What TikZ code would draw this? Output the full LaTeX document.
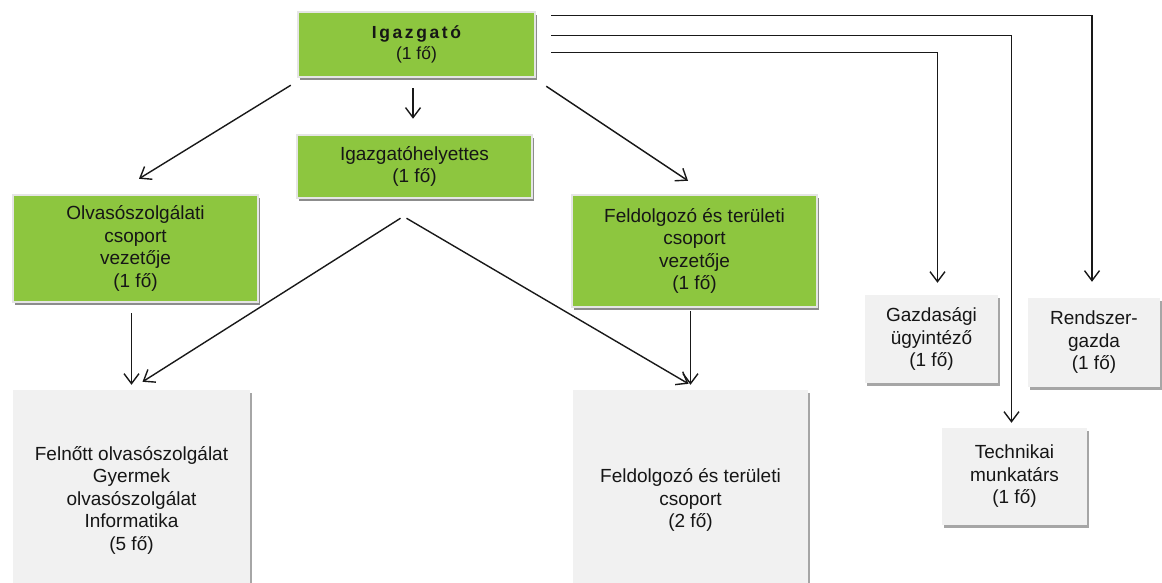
\documentclass[tikz,border=0pt]{standalone}
\usepackage{fontspec}
\setmainfont{Liberation Sans}
\usetikzlibrary{arrows.meta,shadows,calc}
\definecolor{boxgreen}{RGB}{141,198,63}
\definecolor{boxgray}{RGB}{241,241,241}
\definecolor{inkc}{RGB}{22,22,22}
\tikzset{
 base/.style={inner sep=0pt, align=center, font=\fontsize{19}{22.5}\selectfont, text=inkc},
 greenbox/.style={base, fill=boxgreen, draw=black!10, line width=2.5pt,
   drop shadow={shadow xshift=1.5pt, shadow yshift=-3pt, fill=black!45, opacity=1}},
 graybox/.style={base, fill=boxgray,
   drop shadow={shadow xshift=2pt, shadow yshift=-3pt, fill=black!35, opacity=1}},
 arr/.style={draw=black!90, line width=1.4pt, -{Straight Barb[length=10pt,width=15pt]}},
}
\begin{document}
\begin{tikzpicture}[x=1pt,y=-1pt]
\useasboundingbox (0,0) rectangle (1162,583);

% nodes
\node[greenbox, minimum width=237pt, minimum height=65pt,
      font=\fontsize{17.5}{21}\selectfont] (dir) at (416.5,44.5)
  {\textbf{I\kern2.6pt g\kern2.6pt a\kern2.6pt z\kern2.6pt g\kern2.6pt a\kern2.6pt t\kern2.6pt ó}\\(1 fő)};
\node[greenbox, minimum width=235pt, minimum height=63pt] (dep) at (414.5,166.5)
  {Igazgatóhelyettes\\(1 fő)};
\node[greenbox, minimum width=245pt, minimum height=107pt] (olv) at (135.5,248.5)
  {Olvasószolgálati\\csoport\\vezetője\\(1 fő)};
\node[greenbox, minimum width=245pt, minimum height=112pt] (fel) at (694.5,251)
  {Feldolgozó és területi\\csoport\\vezetője\\(1 fő)};
\node[graybox, minimum width=237pt, minimum height=220pt] (bl) at (131.5,500)
  {Felnőtt olvasószolgálat\\Gyermek\\olvasószolgálat\\Informatika\\(5 fő)};
\node[graybox, minimum width=235pt, minimum height=220pt] (br) at (690.5,500)
  {Feldolgozó és területi\\csoport\\(2 fő)};
\node[graybox, minimum width=133pt, minimum height=88pt] (gaz) at (931.5,339)
  {Gazdasági\\ügyintéző\\(1 fő)};
\node[graybox, minimum width=132pt, minimum height=89pt] (ren) at (1094,342.5)
  {Rendszer-\\gazda\\(1 fő)};
\node[graybox, minimum width=145pt, minimum height=97pt] (tec) at (1014.5,476.5)
  {Technikai\\munkatárs\\(1 fő)};

% connectors
\draw[arr] ($(dir.south west)+(-6,7)$) -- ($(olv.north)+(3.5,-15)$);
\draw[arr] ($(dir.south)+(-3.5,10)$) -- ($(dep.north)+(-1.5,-15)$);
\draw[arr] ($(dir.south east)+(10,8)$) -- ($(fel.north)+(-6.5,-13)$);
\draw[arr] ($(dep.south)+(-14,19)$) -- ($(bl.north)+(11,-8)$);
\draw[arr] ($(dep.south)+(-8,19)$) -- ($(br.north)+(-2,-6)$);
\draw[arr, shorten <=10pt, shorten >=5pt] (olv.south -| bl.north) -- (bl.north);
\draw[arr, shorten <=3pt, shorten >=5pt] (fel.south -| br.north) -- (br.north);
\draw[arr] ($(dir.north east)+(15,5)$) -| ($(ren.north)+(-2,-16)$);
\draw[arr] ($(dir.north east)+(15,25)$) -| ($(tec.north)+(-3,-5)$);
\draw[arr] ($(dir.north east)+(15,42)$) -| ($(gaz.north)+(6,-12)$);
\end{tikzpicture}
\end{document}
